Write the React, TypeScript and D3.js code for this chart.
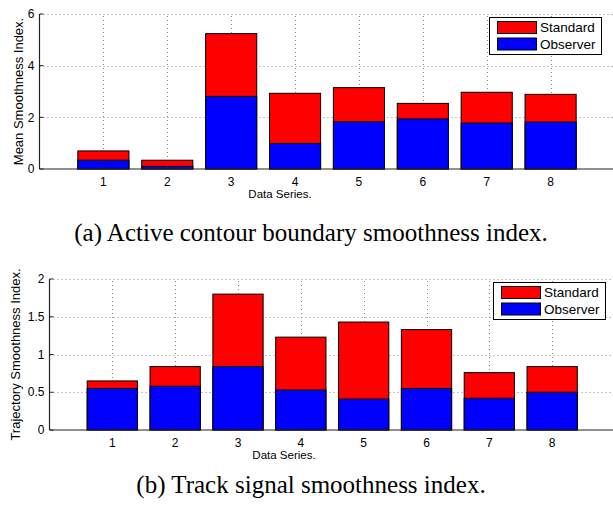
import React, { useEffect, useRef } from 'react'
import * as d3 from 'd3'

// data
const series = [1, 2, 3, 4, 5, 6, 7, 8]
const legendNames = ['Standard', 'Observer']

const meanStandard = [0.7, 0.34, 5.24, 2.93, 3.15, 2.54, 2.97, 2.89]
const meanObserver = [0.34, 0.1, 2.81, 0.99, 1.83, 1.94, 1.78, 1.82]
const meanTicks = [0, 2, 4, 6]

const trajStandard = [0.65, 0.84, 1.8, 1.23, 1.43, 1.33, 0.76, 0.84]
const trajObserver = [0.55, 0.58, 0.84, 0.53, 0.41, 0.55, 0.42, 0.5]
const trajTicks = [0, 0.5, 1, 1.5, 2]

const SANS = '"Liberation Sans", Arial, Helvetica, sans-serif'
const SERIF = '"Liberation Serif", "Times New Roman", serif'

function drawPanel(svg, opt) {
  const g = svg.append('g')
  const x = d3.scaleLinear().domain([0, 9]).range(opt.xRange)
  const y = d3.scaleLinear().domain([0, opt.yMax]).range(opt.yRange)
  const x0 = opt.xRange[0]
  const x1 = 613

  // grid (dotted)
  g.selectAll('.hgrid').data(opt.yTicks.filter(d => d > 0)).enter().append('line')
    .attr('x1', x0).attr('x2', x1)
    .attr('y1', d => Math.round(y(d)) + 0.5).attr('y2', d => Math.round(y(d)) + 0.5)
    .attr('stroke', '#888').attr('stroke-dasharray', '1,3')
  g.selectAll('.vgrid').data(series).enter().append('line')
    .attr('x1', d => Math.round(x(d)) + 0.5).attr('x2', d => Math.round(x(d)) + 0.5)
    .attr('y1', y(0)).attr('y2', y(opt.yMax))
    .attr('stroke', '#888').attr('stroke-dasharray', '1,3')

  const bw = x(0.8) - x(0)
  // standard first, observer drawn over it
  g.selectAll('.std').data(opt.standard).enter().append('rect')
    .attr('x', (d, i) => x(series[i]) - bw / 2)
    .attr('y', d => y(d))
    .attr('width', bw)
    .attr('height', d => y(0) - y(d))
    .attr('fill', '#ff0000').attr('stroke', '#000').attr('stroke-width', 1)
  g.selectAll('.obs').data(opt.observer).enter().append('rect')
    .attr('x', (d, i) => x(series[i]) - bw / 2)
    .attr('y', d => y(d))
    .attr('width', bw)
    .attr('height', d => y(0) - y(d))
    .attr('fill', '#0000ff').attr('stroke', '#000').attr('stroke-width', 1)

  // axes
  g.append('line').attr('x1', x0).attr('x2', x1).attr('y1', y(0)).attr('y2', y(0))
    .attr('stroke', '#222').attr('stroke-width', 1.2)
  g.append('line').attr('x1', x0).attr('x2', x0).attr('y1', y(0)).attr('y2', y(opt.yMax))
    .attr('stroke', '#222').attr('stroke-width', 1.2)

  g.selectAll('.ytick').data(opt.yTicks).enter().append('line')
    .attr('x1', x0).attr('x2', x0 + 4)
    .attr('y1', d => y(d)).attr('y2', d => y(d))
    .attr('stroke', '#222')
  g.selectAll('.ylab').data(opt.yTicks).enter().append('text')
    .attr('x', x0 - 5).attr('y', d => y(d))
    .attr('dy', '0.35em').attr('text-anchor', 'end')
    .attr('font-family', SANS).attr('font-size', 12)
    .text(d => d)

  g.selectAll('.xtick').data(series).enter().append('line')
    .attr('x1', d => x(d)).attr('x2', d => x(d))
    .attr('y1', y(0)).attr('y2', y(0) - 3)
    .attr('stroke', '#222')
  g.selectAll('.xlab').data(series).enter().append('text')
    .attr('x', d => x(d)).attr('y', y(0) + 13)
    .attr('dy', '0.35em').attr('text-anchor', 'middle')
    .attr('font-family', SANS).attr('font-size', 12)
    .text(d => d)

  g.append('text')
    .attr('x', opt.xLabelX).attr('y', y(0) + 29)
    .attr('text-anchor', 'middle')
    .attr('font-family', SANS).attr('font-size', 11.5)
    .text('Data Series.')

  g.append('text')
    .attr('transform', `translate(${opt.yLabelX},${(y(0) + y(opt.yMax)) / 2}) rotate(-90)`)
    .attr('text-anchor', 'middle')
    .attr('font-family', SANS).attr('font-size', 13)
    .text(opt.yLabel)

  // legend
  const lg = g.append('g').attr('transform', `translate(${opt.legend[0]},${opt.legend[1]})`)
  lg.append('rect').attr('x', 0.5).attr('y', 0.5).attr('width', 112).attr('height', 37)
    .attr('fill', '#fff').attr('stroke', '#000').attr('stroke-width', 1)
  const colors = ['#ff0000', '#0000ff']
  legendNames.forEach((name, i) => {
    lg.append('rect').attr('x', 8.5).attr('y', 4.5 + i * 16.5).attr('width', 39).attr('height', 12)
      .attr('fill', colors[i]).attr('stroke', '#000')
    lg.append('text').attr('x', 51).attr('y', 10.5 + i * 16.5).attr('dy', '0.35em')
      .attr('font-family', SANS).attr('font-size', 13.5)
      .text(name)
  })

  svg.append('text')
    .attr('x', 311).attr('y', opt.captionY)
    .attr('text-anchor', 'middle')
    .attr('font-family', SERIF).attr('font-size', 25)
    .text(opt.caption)
}

export default function App() {
  const ref = useRef(null)

  useEffect(() => {
    const svg = d3.select(ref.current)
    svg.selectAll('*').remove()
    drawPanel(svg, {
      xRange: [39.5, 614.5],
      yRange: [169, 14],
      yMax: 6,
      yTicks: meanTicks,
      standard: meanStandard,
      observer: meanObserver,
      yLabel: 'Mean Smoothness Index.',
      yLabelX: 23,
      xLabelX: 280,
      legend: [489, 17],
      caption: '(a)  Active contour boundary smoothness index.',
      captionY: 241
    })
    drawPanel(svg, {
      xRange: [49.5, 615],
      yRange: [430, 279],
      yMax: 2,
      yTicks: trajTicks,
      standard: trajStandard,
      observer: trajObserver,
      yLabel: 'Trajectory Smoothness Index.',
      yLabelX: 20,
      xLabelX: 284,
      legend: [493, 282],
      caption: '(b)  Track signal smoothness index.',
      captionY: 493
    })
  }, [])

  return (
    <svg ref={ref} width={613} height={508}
      style={{ position: 'absolute', left: 0, top: 0, background: '#fff' }} />
  )
}
